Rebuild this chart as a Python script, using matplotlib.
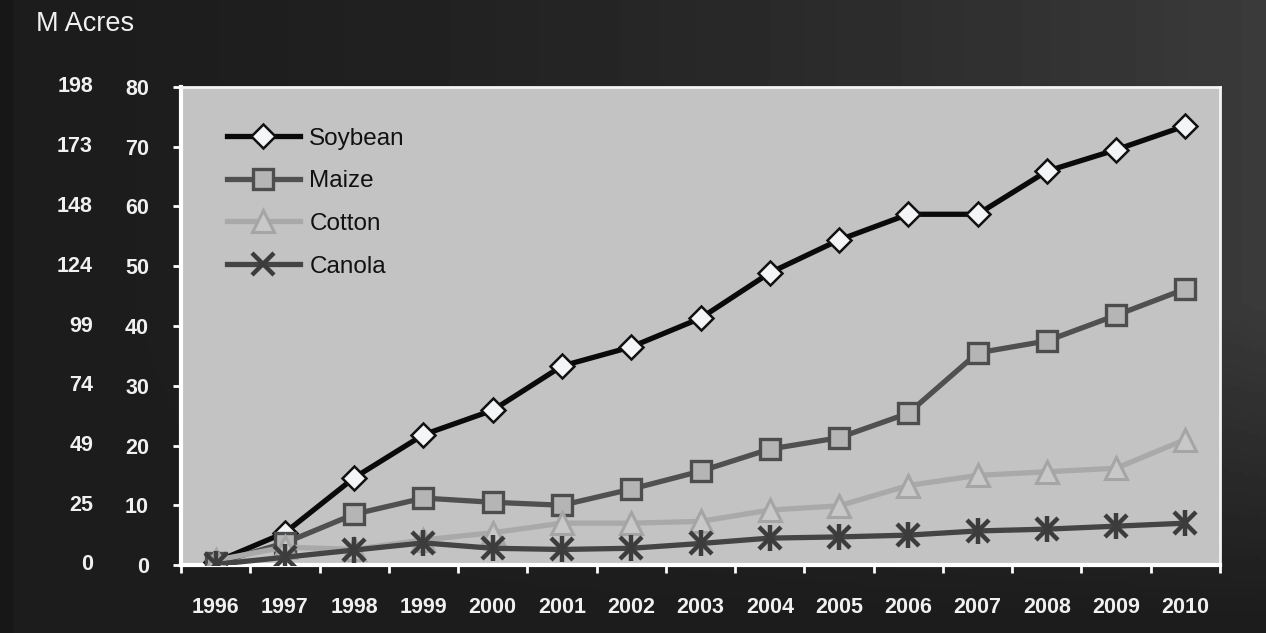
import numpy as np
import matplotlib
matplotlib.use('Agg')
from matplotlib import pyplot as plt
from matplotlib import transforms
from matplotlib.ticker import FixedLocator

plt.rcParams['font.family'] = ['Liberation Sans', 'DejaVu Sans']

years = ['1996', '1997', '1998', '1999', '2000', '2001', '2002', '2003',
         '2004', '2005', '2006', '2007', '2008', '2009', '2010']
soybean = [0.5, 5.4, 14.6, 21.8, 25.9, 33.3, 36.5, 41.3, 48.9, 54.4, 58.7, 58.7, 65.9, 69.5, 73.5]
maize = [0.3, 3.7, 8.5, 11.2, 10.5, 10.0, 12.7, 15.7, 19.4, 21.3, 25.4, 35.5, 37.5, 41.8, 46.2]
cotton = [0.8, 3.0, 2.6, 4.2, 5.4, 7.0, 7.0, 7.3, 9.2, 9.9, 13.3, 15.0, 15.6, 16.2, 21.0]
canola = [0.1, 1.3, 2.5, 3.7, 2.8, 2.6, 2.8, 3.6, 4.5, 4.7, 5.0, 5.7, 6.0, 6.5, 7.0]

ha_ticks = [0, 10, 20, 30, 40, 50, 60, 70, 80]
acre_labels = ['0', '25', '49', '74', '99', '124', '148', '173', '198']

fig = plt.figure(figsize=(12.66, 6.33), dpi=100)

# dark gradient background
bg = fig.add_axes([0, 0, 1, 1], zorder=-10)
gx, gy = np.meshgrid(np.linspace(0, 1, 400), np.linspace(0, 1, 200))
shade = 0.11 + 0.12 * gx ** 1.6 * np.clip((gy - 0.02) / 0.5, 0, 1)
shade[:, :4] = 0.09
bg.imshow(shade, cmap='gray', vmin=0, vmax=1, aspect='auto', origin='lower',
          extent=[0, 1, 0, 1])
bg.set_axis_off()

ax = fig.add_axes([181 / 1266, 68 / 633, 1039 / 1266, 478 / 633])
ax.set_facecolor('#c3c3c3')
x = np.arange(len(years))

ax.plot(x, soybean, color='#0a0a0a', lw=3.8, marker='D', ms=12.5,
        mfc='#f4f5f7', mec='#111111', mew=1.8, label='Soybean', zorder=3)
ax.plot(x, maize, color='#505050', lw=3.8, marker='s', ms=14,
        mfc='#b5b5b5', mec='#4d4d4d', mew=2.4, label='Maize', zorder=4)
ax.plot(x, cotton, color='#a9a9a9', lw=3.8, marker='^', ms=16,
        mfc='#c8c8c8', mec='#a5a5a5', mew=2.2, label='Cotton', zorder=5)
ax.plot(x, canola, color='#444444', lw=3.8, marker='x', ms=16,
        mec='#3c3c3c', mew=3.2, label='Canola', zorder=6)
ax.plot(x, canola, ls='none', marker='|', ms=19, mec='#3c3c3c', mew=3.2, zorder=6)

ax.set_xlim(-0.5, len(years) - 0.5)
ax.set_ylim(0, 80)

ax.set_xticks(x)
ax.set_xticklabels(years)
ax.xaxis.set_minor_locator(FixedLocator(np.arange(-0.5, len(years), 1.0)))
ax.tick_params(axis='x', which='major', length=0, pad=23, labelsize=15.5,
               labelcolor='#f0f0f0')
ax.tick_params(axis='x', which='minor', length=6, width=2, color='white',
               direction='out')
for lab in ax.get_xticklabels():
    lab.set_fontweight('bold')

ax.set_yticks(ha_ticks)
ax.set_yticklabels([str(v) for v in ha_ticks])
ax.tick_params(axis='y', length=6, width=2, color='white', pad=17,
               labelsize=15.5, labelcolor='#f0f0f0')
for lab in ax.get_yticklabels():
    lab.set_fontweight('bold')

# second column of labels (million acres)
trans = transforms.blended_transform_factory(fig.transFigure, ax.transData)
for v, lab in zip(ha_ticks, acre_labels):
    ax.text(93 / 1266, v, lab, transform=trans, ha='right', va='center',
            fontsize=15.5, fontweight='bold', color='#f0f0f0', clip_on=False)

fig.text(36 / 1266, 1 - 24 / 633, 'M Acres', fontsize=19.5, color='#f0f0f0',
         ha='left', va='center')

for side in ['left', 'bottom']:
    ax.spines[side].set_color('white')
    ax.spines[side].set_linewidth(3)
for side in ['top', 'right']:
    ax.spines[side].set_color('#f4f4f4')
    ax.spines[side].set_linewidth(2)

leg = ax.legend(loc='upper left', bbox_to_anchor=(0.044, 0.915), frameon=False,
                fontsize=17.5, handlelength=3.0, handletextpad=0.4,
                labelspacing=0.85, borderpad=0, borderaxespad=0)
for t in leg.get_texts():
    t.set_color('#111111')

fig.savefig('out.png', dpi=100)
